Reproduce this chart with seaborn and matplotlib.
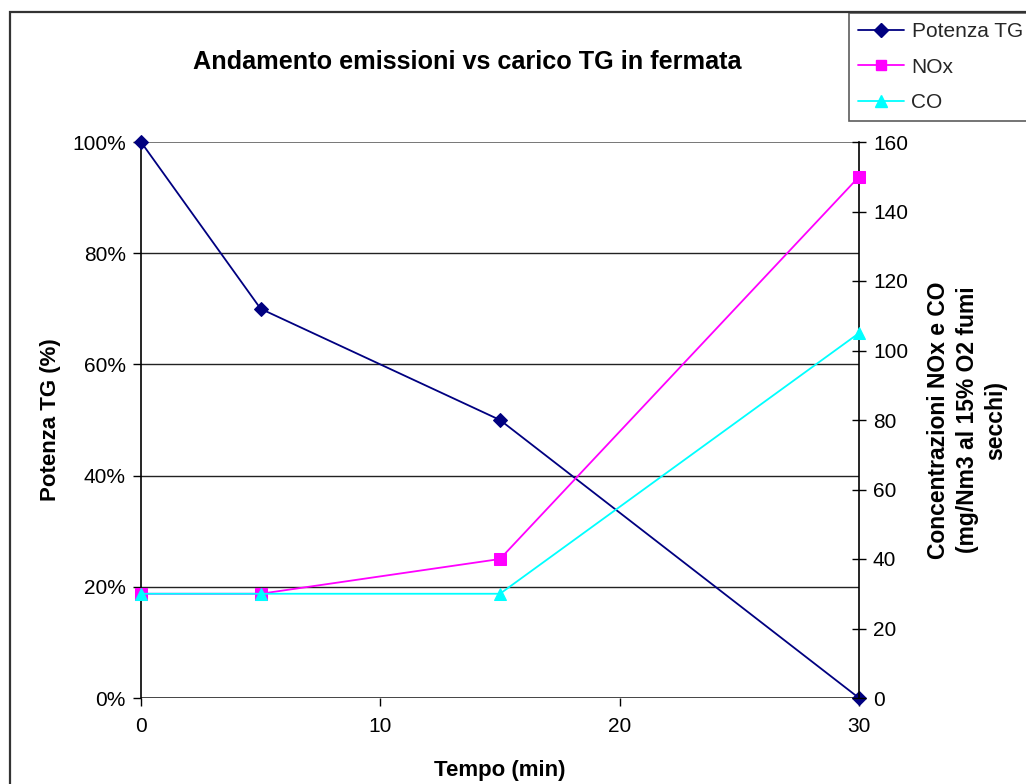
import matplotlib
matplotlib.use("Agg")
import matplotlib.pyplot as plt
import seaborn as sns
import pandas as pd
from matplotlib.patches import Rectangle
from matplotlib.lines import Line2D
from matplotlib.ticker import PercentFormatter

tempo = [0, 5, 15, 30]
potenza_tg = [1.00, 0.70, 0.50, 0.00]
nox = [30, 30, 40, 150]
co = [30, 30, 30, 105]

sns.set_theme(style="white")
plt.rcParams["font.family"] = ["Liberation Sans", "DejaVu Sans"]

fig = plt.figure(figsize=(10.26, 7.84), dpi=100)
ax = fig.add_axes([141 / 1026, 1 - 698 / 784, (859 - 141) / 1026, (698 - 142) / 784])
ax2 = ax.twinx()

# chart-area border
fig.patches.append(Rectangle((10 / 1026, -0.1), 1.2, 1 - 12 / 784 + 0.1,
                             transform=fig.transFigure, fill=False,
                             edgecolor="#333333", linewidth=1.6, zorder=0))

df_p = pd.DataFrame({"tempo": tempo, "valore": potenza_tg})
df_e = pd.DataFrame({"tempo": tempo * 2, "valore": nox + co,
                     "serie": ["NOx"] * 4 + ["CO"] * 4})

# horizontal gridlines
for v in [0.2, 0.4, 0.6, 0.8]:
    ax.axhline(v, color="#222222", linewidth=1.0, zorder=1)
ax.axhline(1.0, color="#777777", linewidth=1.4, zorder=1)
ax.axhline(0.0, color="#444444", linewidth=1.4, zorder=1)

sns.lineplot(data=df_p, x="tempo", y="valore", ax=ax, color="#000080",
             marker="D", markersize=7, markeredgecolor="#000080",
             linewidth=1.3, zorder=3, clip_on=False)
sns.lineplot(data=df_e[df_e.serie == "NOx"], x="tempo", y="valore", ax=ax2,
             color="#FF00FF", marker="s", markersize=8, markeredgecolor="#FF00FF",
             linewidth=1.3, zorder=3, clip_on=False)
sns.lineplot(data=df_e[df_e.serie == "CO"], x="tempo", y="valore", ax=ax2,
             color="#00FFFF", marker="^", markersize=9, markeredgecolor="#00FFFF",
             linewidth=1.3, zorder=4, clip_on=False)

ax.set_xlim(0, 30)
ax.set_ylim(0, 1.0)
ax2.set_ylim(0, 160)
ax.set_xticks([0, 10, 20, 30])
ax.set_yticks([0, 0.2, 0.4, 0.6, 0.8, 1.0])
ax.yaxis.set_major_formatter(PercentFormatter(1.0, decimals=0))
ax2.set_yticks(range(0, 161, 20))

for a in (ax, ax2):
    a.set_facecolor("none")
    for s in a.spines.values():
        s.set_visible(False)
ax.patch.set_visible(False)

ax.spines["left"].set_visible(True)
ax.spines["left"].set_color("black")
ax.spines["left"].set_linewidth(1.2)
ax2.spines["right"].set_visible(True)
ax2.spines["right"].set_color("black")
ax2.spines["right"].set_linewidth(1.2)

ax.tick_params(axis="both", which="major", direction="out", length=6, width=1.0,
               color="black", labelsize=15, labelcolor="black", pad=8,
               left=True, bottom=True)
ax.tick_params(axis="y", pad=5)
ax2.tick_params(axis="y", direction="inout", length=10, width=1.0, color="black",
                labelsize=15, labelcolor="black", pad=5, right=True)

ax.set_xlabel("Tempo (min)", fontsize=16, fontweight="bold", color="black", labelpad=17)
ax.set_ylabel("Potenza TG (%)", fontsize=16, fontweight="bold", color="black", labelpad=8)
ax2.set_ylabel("Concentrazioni NOx e CO\n(mg/Nm3 al 15% O2 fumi\nsecchi)",
               fontsize=16.5, fontweight="bold", color="black", labelpad=14,
               linespacing=1.3)

fig.text(467 / 1026, 1 - 62 / 784, "Andamento emissioni vs carico TG in fermata",
         ha="center", va="center", fontsize=18.2, fontweight="bold", color="black")

handles = [
    Line2D([], [], color="#000080", marker="D", markersize=7, linewidth=1.3),
    Line2D([], [], color="#FF00FF", marker="s", markersize=7, linewidth=1.3),
    Line2D([], [], color="#00FFFF", marker="^", markersize=8, linewidth=1.3),
]
leg = fig.legend(handles, ["Potenza TG", "NOx", "CO"],
                 loc="upper left", bbox_to_anchor=(849 / 1026, 1 - 13 / 784),
                 frameon=True, fancybox=False, fontsize=15, handlelength=2.2,
                 handletextpad=0.35, borderpad=0.45, labelspacing=0.78,
                 borderaxespad=0)
leg.get_frame().set_edgecolor("#333333")
leg.get_frame().set_linewidth(1.2)
leg.get_frame().set_facecolor("white")

fig.savefig("out.png", dpi=100, facecolor="white")
